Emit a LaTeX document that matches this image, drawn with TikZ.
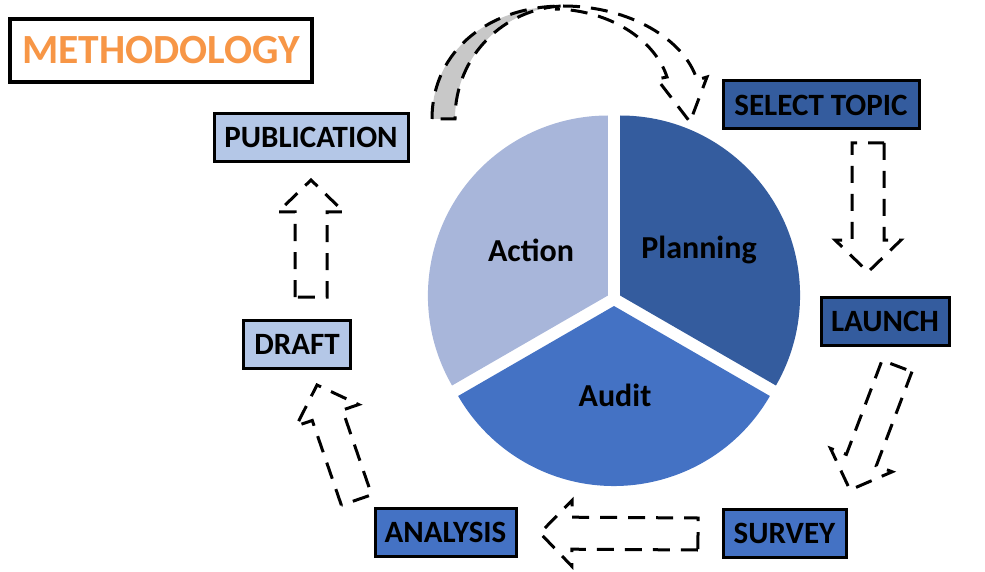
\documentclass[tikz,border=0pt]{standalone}
\usepackage{fontspec}
\setmainfont{Carlito}
\usepackage{xcolor}
\usepackage{tikz}
\usetikzlibrary{calc}
\definecolor{dark}{HTML}{345C9E}
\definecolor{mid}{HTML}{4472C4}
\definecolor{light}{HTML}{A8B6DA}
\definecolor{pale}{HTML}{B4C7E7}
\definecolor{title}{HTML}{F79646}
\definecolor{shade}{HTML}{C8C8C8}
\tikzset{
  box/.style={draw=black, line width=3pt, inner sep=0pt, minimum height=48pt, font=\fontsize{31}{33}\selectfont\bfseries},
  dashline/.style={draw=black, line width=3pt, dash pattern=on 17pt off 11pt},
  slicelab/.style={font=\fontsize{32}{34}\selectfont\bfseries},
}
\newcommand\blockarrow[2]{%
  \coordinate (hb) at ($(#2)!32pt!(#1)$);
  \draw[dashline] ($(#1)!16pt!90:(#2)$) -- ($(hb)!16pt!-90:(#1)$) -- ($(hb)!33pt!-90:(#1)$) -- (#2)
    -- ($(hb)!33pt!90:(#1)$) -- ($(hb)!16pt!90:(#1)$) -- ($(#1)!16pt!-90:(#2)$) -- cycle;
}

\begin{document}
\begin{tikzpicture}[x=1pt,y=-1pt]
  \useasboundingbox (0,0) rectangle (985,572);
  \coordinate (ctr) at (614,299);
  \fill[dark] ($(ctr)+(-30:7)$) -- ++(-90:180) arc[start angle=-90, end angle=30, radius=180] -- cycle;
  \fill[mid] ($(ctr)+(90:7)$) -- ++(30:180) arc[start angle=30, end angle=150, radius=180] -- cycle;
  \fill[light] ($(ctr)+(210:7)$) -- ++(150:180) arc[start angle=150, end angle=270, radius=180] -- cycle;
  \node[slicelab] (plan) at (699,250) {Planning};
  \node[slicelab] (act) at (531,250) {Action};
  \node[slicelab] (aud) at (615,395) {Audit};

  \node[box, line width=4pt, fill=white, text=title, minimum width=302pt, minimum height=63pt, font=\fontsize{41.5}{44}\selectfont\bfseries] (meth) at (161,50.5) {METHODOLOGY};
  \node[box, fill=dark, minimum width=196pt] (topic) at (821,105) {SELECT TOPIC};
  \node[box, fill=dark, minimum width=128pt] (launch) at (885,321) {LAUNCH};
  \node[box, fill=mid, minimum width=123pt] (survey) at (784.5,533) {SURVEY};
  \node[box, fill=mid, minimum width=141pt] (analysis) at (445.5,532) {ANALYSIS};
  \node[box, fill=pale, minimum width=107pt] (draft) at (297,344) {DRAFT};
  \node[box, fill=pale, minimum width=194pt] (pub) at (311,137.5) {PUBLICATION};

  \coordinate (t1) at (868,143);   \coordinate (h1) at (868,272);
  \coordinate (t2) at (897,366);   \coordinate (h2) at (850,490);
  \coordinate (t3) at (698,534);   \coordinate (h3) at (540,533);
  \coordinate (t4) at (356.5,500); \coordinate (h4) at (317,385);
  \coordinate (t5) at (311,297);   \coordinate (h5) at (311,180);
  \blockarrow{t1}{h1}
  \blockarrow{t2}{h2}
  \blockarrow{t3}{h3}
  \blockarrow{t4}{h4}
  \blockarrow{t5}{h5}

  \filldraw[dashline, fill=shade] (432,119) .. controls (432,50) and (490,6) .. (563,6)
    .. controls (505,8) and (455,55) .. (455,119) -- cycle;
  \draw[dashline] (563,6) .. controls (630,6) and (685,40) .. (697,80)
    -- (707,77) -- (690,122) -- (657,79) -- (667,77)
    .. controls (655,40) and (610,10) .. (555,9);
\end{tikzpicture}
\end{document}
